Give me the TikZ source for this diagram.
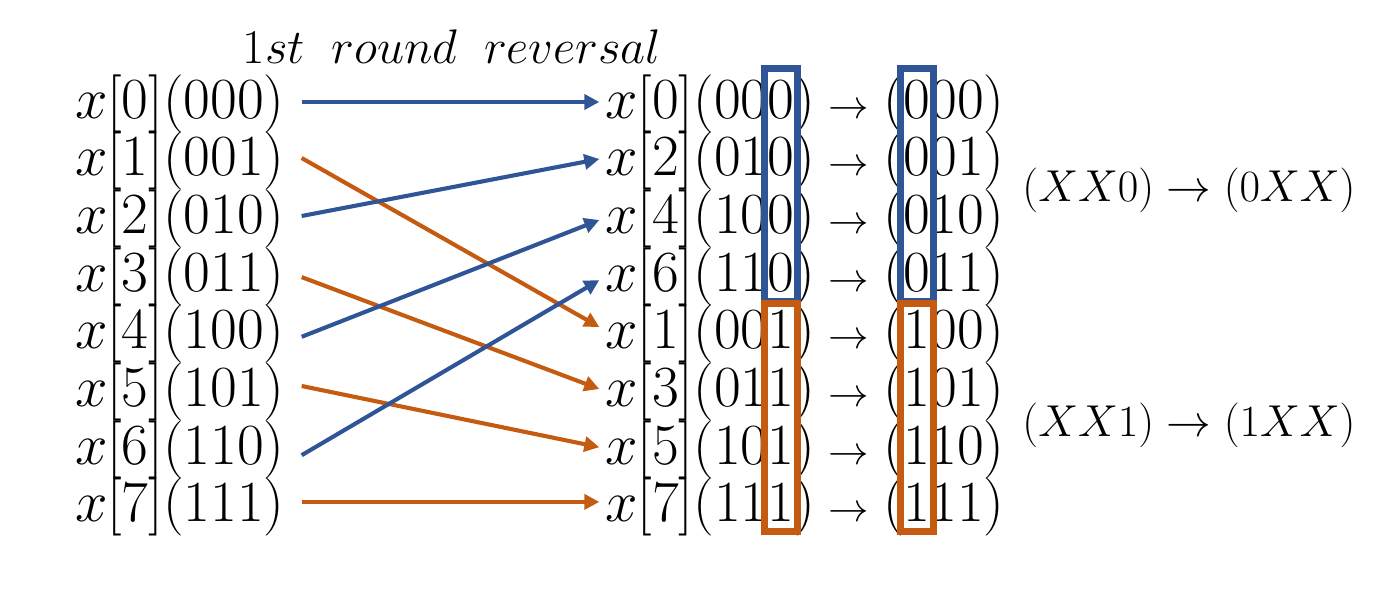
\documentclass[tikz,border=0pt]{standalone}
\usetikzlibrary{arrows.meta}
\definecolor{cblue}{RGB}{47,85,151}
\definecolor{corange}{RGB}{197,90,17}
\begin{document}
\begin{tikzpicture}[x=0.427pt,y=-0.427pt,
  lbl/.style={inner sep=0pt,outer sep=0pt,font=\fontsize{24.88}{30}\selectfont},
  lblsmall/.style={inner sep=0pt,outer sep=0pt,font=\fontsize{17.28}{21}\selectfont},
  lblright/.style={inner sep=0pt,outer sep=0pt,font=\fontsize{20.74}{25}\selectfont},
  conn/.style={line width=1.75pt,-{Triangle[length=6.4pt,width=6.4pt]}},
  bbox/.style={draw=cblue,line width=3pt},
  obox/.style={draw=corange,line width=3pt}]
\useasboundingbox (0,0) rectangle (1400,599);
\node[lblright] (title) at (452,47) {$1st\mkern10mu round\mkern10mu reversal$};
% left column
\foreach \i/\b in {0/000,1/001,2/010,3/011,4/100,5/101,6/110,7/111}{
  \pgfmathsetmacro\yb{118+57.7*\i}
  \node[lbl,anchor=base west] (L\i) at (75,\yb) {$x[\i](\b)$};
}
% middle columns
\foreach \r/\i/\a/\d in {0/0/00/0,1/2/01/0,2/4/10/0,3/6/11/0,4/1/00/1,5/3/01/1,6/5/10/1,7/7/11/1}{
  \pgfmathsetmacro\yb{118+57.7*\r}
  \node[lbl,anchor=base] (D\r) at (781,\yb) {$\d$};
  \node[lbl,anchor=base east] (M\i) at (D\r.base west) {$x[\i](\a$};
  \node[lbl,anchor=base west] (C\r) at (D\r.base east) {$)$};
  \node[lblsmall,anchor=base] (T\r) at (849,\yb) {$\rightarrow$};
  \node[lbl,anchor=base] (E\r) at (917,\yb) {$\d$};
  \node[lbl,anchor=base east] (P\r) at (E\r.base west) {$($};
  \node[lbl,anchor=base west] (F\r) at (E\r.base east) {$\a)$};
}
% connectors
\foreach \s/\sy/\ty/\c in {0/16/16/cblue,1/17.7/21.8/corange,2/17.4/16.7/cblue,3/14/17.5/corange,4/12/13.4/cblue,5/20.5/17/corange,6/9/11/cblue,7/20/20/corange}{
  \draw[conn,color=\c] ([shift={(17,-\sy)}]L\s.base east) -- ([shift={(-6,-\ty)}]M\s.base west);
}
% boxes
\draw[bbox] ([shift={(-3.5,-12)}]D0.north west) rectangle ([shift={(3.5,10.5)}]D3.south east);
\draw[bbox] ([shift={(-3.5,-12)}]E0.north west) rectangle ([shift={(3.5,10.5)}]E3.south east);
\draw[obox] ([shift={(-3.5,-7.5)}]D4.north west) rectangle ([shift={(3.5,9.5)}]D7.south east);
\draw[obox] ([shift={(-3.5,-7.5)}]E4.north west) rectangle ([shift={(3.5,9.5)}]E7.south east);
% right labels
\node[lblright] (r1) at (1189,190) {\scalebox{0.92}{$(XX0)\rightarrow(0XX)$}};
\node[lblright] (r2) at (1189,425) {\scalebox{0.92}{$(XX1)\rightarrow(1XX)$}};
\end{tikzpicture}
\end{document}
